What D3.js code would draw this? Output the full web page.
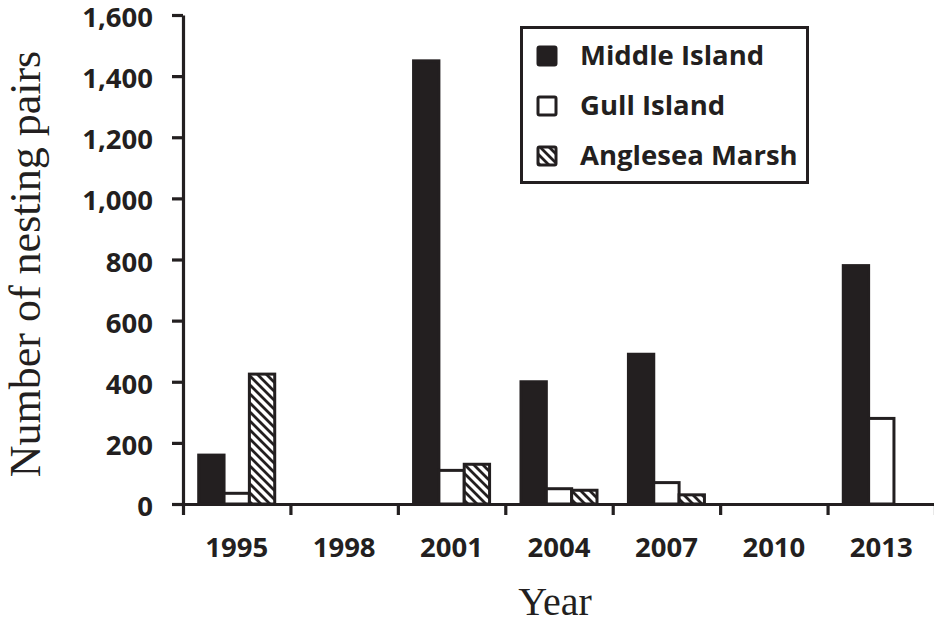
<!DOCTYPE html>
<html>
<head>
<meta charset="utf-8">
<script src="https://cdn.jsdelivr.net/npm/d3@7"></script>
<style>
  body { margin: 0; background: #fff; }
  #chart { width: 934px; height: 625px; }
  .tick text { font-family: "Open Sans", sans-serif; font-weight: 700; font-size: 27.5px; fill: #231f20; }
</style>
</head>
<body>
<div id="chart"></div>
<script>
const years = ["1995", "1998", "2001", "2004", "2007", "2010", "2013"];
const middleIsland = [160, null, 1450, 400, 490, null, 780];
const gullIsland = [35, null, 110, 50, 70, null, 280];
const angleseaMarsh = [425, null, 130, 45, 30, null, null];
const seriesNames = ["Middle Island", "Gull Island", "Anglesea Marsh"];
const yTicks = [0, 200, 400, 600, 800, 1000, 1200, 1400, 1600];

const ink = "#231f20";
const margin = { top: 15, right: -1, bottom: 121, left: 183 };
const width = 934, height = 625;

const series = [middleIsland, gullIsland, angleseaMarsh];
const fills = [ink, "#fff", "url(#hatch)"];

const svg = d3.select("#chart")
  .append("svg")
  .attr("width", width)
  .attr("height", height);

// diagonal hatch for Anglesea Marsh
const pat = svg.append("defs")
  .append("pattern")
  .attr("id", "hatch")
  .attr("patternUnits", "userSpaceOnUse")
  .attr("width", 9)
  .attr("height", 9);
pat.append("rect").attr("width", 9).attr("height", 9).attr("fill", "#fff");
pat.append("path")
  .attr("d", "M-2,-2L11,11M-2,7L2,11M7,-2L11,2")
  .attr("stroke", ink)
  .attr("stroke-width", 2.8);

const x = d3.scaleBand()
  .domain(years)
  .range([margin.left, width - margin.right])
  .paddingInner(0)
  .paddingOuter(0);

const xInner = d3.scaleBand()
  .domain(seriesNames)
  .range([0, x.bandwidth()])
  .paddingInner(0)
  .paddingOuter(0.62);

const y = d3.scaleLinear()
  .domain([0, 1600])
  .range([height - margin.bottom, margin.top]);

// bars
series.forEach((vals, i) => {
  svg.append("g")
    .selectAll("rect")
    .data(vals.map((v, j) => ({ year: years[j], value: v })).filter((d) => d.value != null))
    .join("rect")
    .attr("x", (d) => x(d.year) + xInner(seriesNames[i]))
    .attr("y", (d) => y(d.value))
    .attr("width", xInner.bandwidth())
    .attr("height", (d) => y(0) - y(d.value))
    .attr("fill", fills[i])
    .attr("stroke", ink)
    .attr("stroke-width", 3);
});

// y axis
const yAxis = svg.append("g")
  .attr("transform", "translate(" + margin.left + ",0)")
  .call(d3.axisLeft(y).tickValues(yTicks).tickFormat(d3.format(",")).tickSize(11).tickSizeOuter(0).tickPadding(19));
yAxis.selectAll(".tick text").attr("dy", "0.42em");

// x axis: boundary ticks + centred year labels
const edge = d3.scaleLinear().domain([0, years.length]).range(x.range());
const xAxis = svg.append("g")
  .attr("transform", "translate(0," + y(0) + ")")
  .call(d3.axisBottom(edge).tickValues(d3.range(years.length + 1)).tickFormat("").tickSize(11).tickSizeOuter(0));
const xLabels = svg.append("g")
  .attr("transform", "translate(0," + y(0) + ")")
  .call(d3.axisBottom(x).tickSize(0).tickPadding(33));
xLabels.select(".domain").remove();

svg.selectAll(".domain, .tick line")
  .attr("stroke", ink)
  .attr("stroke-width", 3.2);

// axis titles
svg.append("text")
  .attr("transform", "translate(40,264) rotate(-90)")
  .attr("text-anchor", "middle")
  .style("font-family", "'Liberation Serif', 'Times New Roman', serif")
  .style("font-size", "44px")
  .attr("fill", ink)
  .text("Number of nesting pairs");

svg.append("text")
  .attr("x", 555)
  .attr("y", 615)
  .attr("text-anchor", "middle")
  .style("font-family", "'Liberation Serif', 'Times New Roman', serif")
  .style("font-size", "40px")
  .attr("fill", ink)
  .text("Year");

// legend
const legend = svg.append("g");
legend.append("rect")
  .attr("x", 521.5)
  .attr("y", 27.5)
  .attr("width", 286)
  .attr("height", 155)
  .attr("fill", "#fff")
  .attr("stroke", ink)
  .attr("stroke-width", 3);

seriesNames.forEach((name, i) => {
  const row = legend.append("g").attr("transform", "translate(0," + (56 + i * 50) + ")");
  row.append("rect")
    .attr("x", 538)
    .attr("y", -9)
    .attr("width", 18)
    .attr("height", 18)
    .attr("rx", 1.5)
    .attr("fill", fills[i])
    .attr("stroke", ink)
    .attr("stroke-width", 3);
  row.append("text")
    .attr("x", 580)
    .attr("y", 9)
    .style("font-family", "'Open Sans', sans-serif")
    .style("font-weight", 700)
    .style("font-size", "27.5px")
    .attr("fill", ink)
    .text(name);
});
</script>
</body>
</html>
